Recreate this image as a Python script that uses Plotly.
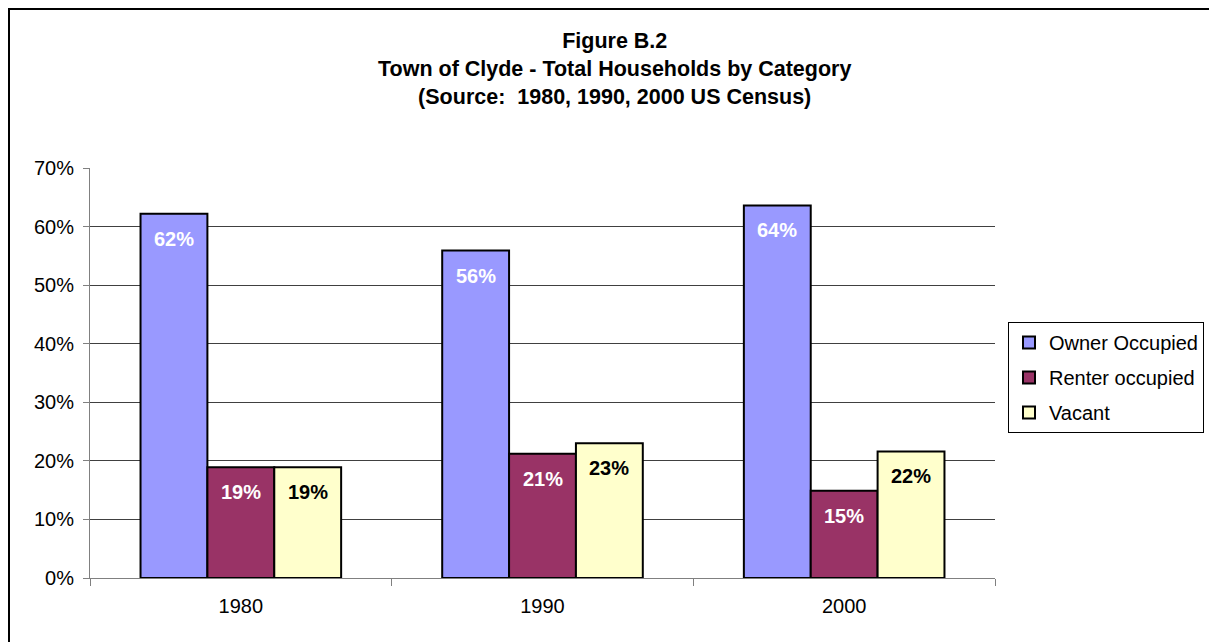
import plotly.graph_objects as go

years = ["1980", "1990", "2000"]
series_names = ["Owner Occupied", "Renter occupied", "Vacant"]
owner = [0.622, 0.559, 0.636]
renter = [0.189, 0.212, 0.149]
vacant = [0.189, 0.230, 0.216]
labels_owner = ["62%", "56%", "64%"]
labels_renter = ["19%", "21%", "15%"]
labels_vacant = ["19%", "23%", "22%"]
y_ticks = [0, 0.1, 0.2, 0.3, 0.4, 0.5, 0.6, 0.7]
y_tick_labels = ["0%", "10%", "20%", "30%", "40%", "50%", "60%", "70%"]

colors = ["#9999FF", "#993366", "#FFFFCC"]
label_colors = ["white", "white", "black"]
FONT = "Arial, Liberation Sans, sans-serif"

# the page body adds an 8px margin; compensate so page pixels match
OFF = 8
W, H = 1217 - OFF, 642 - OFF
L, T = 90 - OFF, 168 - OFF
plot_w, plot_h = 905, 410
R = W - L - plot_w
B = H - T - plot_h
bargap = 0.335
bar_px = plot_w / len(years) * (1 - bargap) / 3

def px_x(p):
    return (p - OFF - L) / plot_w

def px_y(p):
    return (T + plot_h - (p - OFF)) / plot_h

fig = go.Figure()
all_vals = [owner, renter, vacant]
all_labels = [labels_owner, labels_renter, labels_vacant]
for i, (name, vals) in enumerate(zip(series_names, all_vals)):
    fig.add_trace(go.Bar(
        name=name, x=years, y=vals, legendgroup=f"g{i}",
        marker=dict(color=colors[i], line=dict(color="black", width=2)),
        hoverinfo="skip",
    ))

annotations = []
for i, (vals, labs) in enumerate(zip(all_vals, all_labels)):
    for k, (v, lab) in enumerate(zip(vals, labs)):
        annotations.append(dict(
            x=k, y=v, xref="x", yref="y", text=f"<b>{lab}</b>",
            showarrow=False, xshift=(i - 1) * bar_px, yshift=-25,
            font=dict(family=FONT, size=20, color=label_colors[i]),
        ))

annotations.append(dict(
    x=px_x(614), y=px_y(69), xref="paper", yref="paper",
    text="<b>Figure B.2<br>Town of Clyde - Total Households by Category<br>(Source:  1980, 1990, 2000 US Census)</b>",
    showarrow=False, align="center", xanchor="center", yanchor="middle",
    font=dict(family=FONT, size=21.5, color="black"),
))

fig.update_layout(
    width=W, height=H,
    margin=dict(l=L, r=R, t=T, b=B, pad=0),
    paper_bgcolor="white", plot_bgcolor="white",
    barmode="group", bargap=bargap, bargroupgap=0,
    font=dict(family=FONT, size=20, color="black"),
    showlegend=True,
    legend=dict(
        x=px_x(1008), y=px_y(322), xanchor="left", yanchor="top",
        bordercolor="black", borderwidth=1, bgcolor="white",
        font=dict(size=20), traceorder="grouped", tracegroupgap=6, itemwidth=30,
    ),
    annotations=annotations,
    shapes=[dict(type="rect", xref="paper", yref="paper",
                 x0=px_x(9), x1=1.5, y0=-0.5, y1=px_y(9),
                 line=dict(color="black", width=2), layer="below")],
)

fig.update_xaxes(
    type="category", showline=True, linecolor="#808080", linewidth=1,
    ticks="outside", tickson="boundaries", ticklen=7, tickcolor="#808080",
    showgrid=False, tickfont=dict(size=20), fixedrange=True, tickangle=0,
    ticklabelstandoff=10,
)
fig.update_yaxes(
    range=[0, 0.7], tickvals=y_ticks, ticktext=y_tick_labels,
    showline=True, linecolor="#808080", linewidth=1,
    ticks="outside", ticklen=6, tickcolor="#808080",
    showgrid=True, gridcolor="#404040", gridwidth=1,
    tickfont=dict(size=20), zeroline=False, fixedrange=True,
    ticklabelstandoff=5,
)

fig.write_html("out.html")
